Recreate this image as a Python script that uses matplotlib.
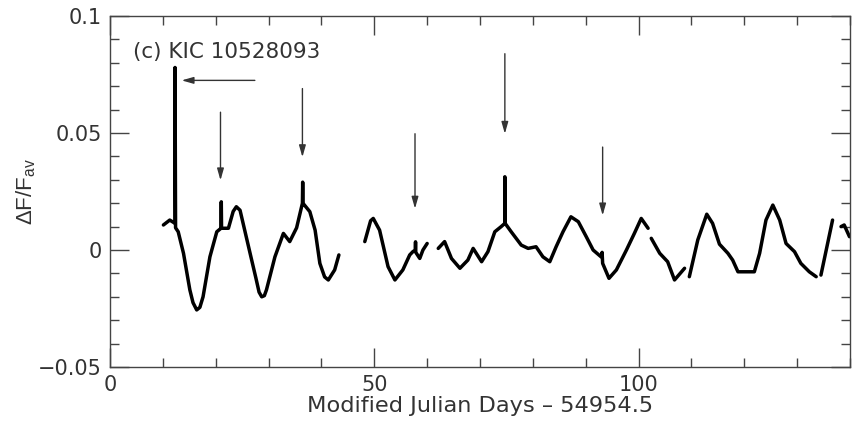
import numpy as np
import matplotlib
matplotlib.use("Agg")
import matplotlib.pyplot as plt
from matplotlib.ticker import MultipleLocator, FuncFormatter

plt.rcParams['font.family'] = ['DejaVu Sans']
plt.rcParams['mathtext.fontset'] = 'custom'
plt.rcParams['mathtext.rm'] = 'Liberation Sans'
plt.rcParams['mathtext.it'] = 'Liberation Sans'

nan = np.nan
# Light curve of KIC 10528093 (segments separated by NaN gaps)
days = [10.1, 11.3, 12.3, 12.3, 12.4, 12.9, 13.9, 15.1, 15.7, 16.4, 17.0, 17.6,
        18.9, 20.2, 21.0, 21.05, 21.1, 22.4, 23.3, 23.9, 24.6, 26.5, 27.6, 28.2,
        28.7, 29.2, 29.6, 31.2, 32.8, 34.0, 35.3, 36.4, 36.45, 36.5, 37.8, 38.8,
        39.7, 40.6, 41.3, 42.5, 43.3,
        nan,
        48.2, 49.3, 49.8, 51.0, 52.6, 53.9, 55.4, 56.7, 57.3, 57.75, 57.8, 57.85,
        58.6, 59.2, 60.0,
        nan,
        62.1, 63.3, 64.6, 66.2, 67.7, 68.7, 70.3, 71.5, 72.8, 74.0, 74.7, 74.7,
        74.75, 75.9, 77.8, 79.1, 80.6, 81.9, 83.2, 84.4, 85.7, 87.2, 88.6, 90.1,
        91.4, 92.9, 93.1, 93.2, 94.4, 95.8, 97.7, 99.2, 100.5, 101.8,
        nan,
        102.4, 104.0, 105.5, 106.8, 108.7,
        nan,
        109.6, 111.2, 112.9, 114.0, 115.3, 116.9, 117.8, 118.8, 120.3, 121.9,
        122.9, 124.1, 125.4, 126.7, 127.9, 129.5, 130.7, 132.3, 133.6,
        nan,
        134.5, 136.7,
        nan,
        138.3, 138.9, 139.9]
flux = [0.0107, 0.0128, 0.0114, 0.078, 0.0095, 0.0078, -0.0014, -0.017, -0.0225,
        -0.0256, -0.0245, -0.020, -0.0029, 0.0078, 0.0093, 0.0206, 0.0093, 0.0093,
        0.0165, 0.0185, 0.017, -0.0014, -0.012, -0.018, -0.020, -0.0195, -0.017,
        -0.0029, 0.0071, 0.0036, 0.0095, 0.020, 0.029, 0.020, 0.0164, 0.0085,
        -0.0057, -0.0115, -0.0128, -0.0085, -0.0021,
        nan,
        0.0036, 0.0125, 0.0135, 0.0085, -0.0071, -0.0128, -0.0085, -0.0021,
        -0.0007, 0.0, 0.0035, -0.001, -0.0036, 0.0, 0.0028,
        nan,
        0.0007, 0.0036, -0.0036, -0.0078, -0.0043, 0.0007, -0.005, -0.0007, 0.0078,
        0.010, 0.0114, 0.0313, 0.0114, 0.0078, 0.0021, 0.0007, 0.0014, -0.0029,
        -0.005, 0.0014, 0.0078, 0.0142, 0.0121, 0.0057, 0.0, -0.0029, -0.001,
        -0.0057, -0.0121, -0.0085, 0.0, 0.0071, 0.0135, 0.0093,
        nan,
        0.005, -0.0014, -0.005, -0.0128, -0.0078,
        nan,
        -0.0114, 0.0043, 0.0153, 0.0114, 0.0025, -0.0014, -0.0043, -0.0093,
        -0.0093, -0.0093, -0.0014, 0.0128, 0.0192, 0.0128, 0.0028, -0.0007,
        -0.0057, -0.0093, -0.0114,
        nan,
        -0.0107, 0.0128,
        nan,
        0.010, 0.0107, 0.0057]

# Flare markers (vertical arrows): x, tail y, tip y
arrow_x = [20.9, 36.4, 57.7, 74.7, 93.2]
arrow_tail = [0.0589, 0.069, 0.0497, 0.0839, 0.044]
arrow_tip = [0.0298, 0.0397, 0.0177, 0.0497, 0.0148]
# Horizontal arrow pointing to the big flare
harrow_tail = (27.4, 0.0725)
harrow_tip = (13.55, 0.0725)

label_text = "(c) KIC 10528093"
xlabel = "Modified Julian Days \u2013 54954.5"
ylabel = r"$\Delta$F/F$_{\mathregular{av}}$"

fig = plt.figure(figsize=(8.67, 4.22), dpi=100)
ax = fig.add_axes([0.1269, 0.1303, 0.8535, 0.8317])

ax.plot(days, flux, color='black', lw=2.5, solid_joinstyle='round',
        solid_capstyle='round')

aprops = dict(arrowstyle='-|>,head_length=0.7,head_width=0.2', color='#333333',
              lw=1.0, shrinkA=0, shrinkB=0)
for x, y0, y1 in zip(arrow_x, arrow_tail, arrow_tip):
    ax.annotate('', xy=(x, y1), xytext=(x, y0), arrowprops=aprops)
ax.annotate('', xy=harrow_tip, xytext=harrow_tail, arrowprops=aprops)

ax.text(4.3, 0.0846, label_text, fontsize=15.5, color='#333333', va='center', ha='left')

ax.set_xlim(0, 140)
ax.set_ylim(-0.05, 0.1)
ax.xaxis.set_major_locator(MultipleLocator(50))
ax.xaxis.set_minor_locator(MultipleLocator(10))
ax.yaxis.set_major_locator(MultipleLocator(0.05))
ax.yaxis.set_minor_locator(MultipleLocator(0.01))
ax.xaxis.set_major_formatter(FuncFormatter(lambda v, p: f"{v:g}"))
ax.yaxis.set_major_formatter(FuncFormatter(
    lambda v, p: ("0" if abs(v) < 1e-12 else f"{v:g}".replace('-', '\u2212'))))

ax.tick_params(which='both', direction='in', top=True, right=True, colors='#444444',
               labelcolor='#333333', labelsize=15)
ax.tick_params(which='major', length=13.5, width=1.0, pad=6)
ax.tick_params(which='minor', length=6.5, width=1.0)
for s in ax.spines.values():
    s.set_color('#444444')
    s.set_linewidth(1.0)

ax.set_xlabel(xlabel, fontsize=16.2, color='#333333', labelpad=0.5)
ax.set_ylabel(ylabel, fontsize=16, color='#333333', family='Liberation Sans')
ax.yaxis.set_label_coords(-0.097, 0.5)

fig.savefig('out.png', dpi=100)
